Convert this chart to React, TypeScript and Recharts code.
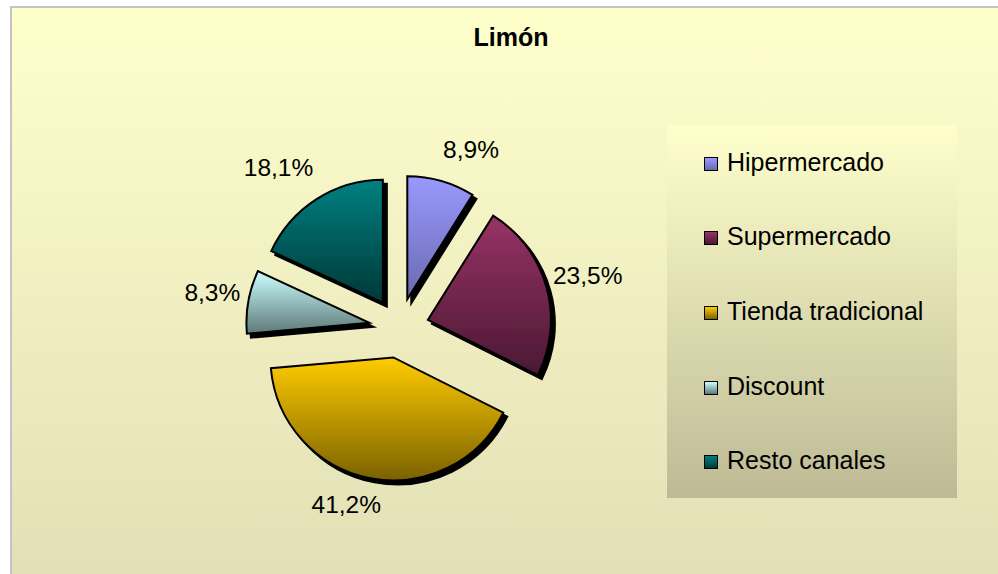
import { Cell, Legend, Pie, PieChart } from 'recharts';

const channels = ['Hipermercado', 'Supermercado', 'Tienda tradicional', 'Discount', 'Resto canales'];
const shares = [8.9, 23.5, 41.2, 8.3, 18.1];
const topColors = ['#9999FF', '#993366', '#FFCC00', '#CCFFFF', '#008080'];
const bottomColors = ['#6A6AB0', '#4A1832', '#7A6100', '#5E7878', '#003838'];

const W = 998;
const H = 574;
const CX = 399;
const CY = 328;
const R = 123;
const EXPLODE = 30;
const RADIAN = Math.PI / 180;
const font = '"Liberation Sans", Arial, sans-serif';

// label placement around each pulled-out slice: extra radius, and a turn in degrees (clockwise)
const labelGap = [40, 43, 31, 37, 48];
const labelTurn = [7, 0, 7, 1, -5];

const rows = channels.map((name, i) => ({ name, value: shares[i] }));
const total = shares.reduce((a, b) => a + b, 0);

// each slice is pulled out along its own mid angle (clockwise from 12 o'clock)
const offsets = shares.map((v, i) => {
  const before = shares.slice(0, i).reduce((a, b) => a + b, 0);
  const mid = ((before + v / 2) / total) * 2 * Math.PI;
  return { dx: EXPLODE * Math.sin(mid), dy: -EXPLODE * Math.cos(mid) };
});

const fmt = (v: number) => `${v.toFixed(1).replace('.', ',')}%`;

const labelFor = (slice: number) => (props: any) => {
  if (props.index !== slice) return null;
  const r = props.outerRadius + labelGap[slice];
  const a = (props.midAngle - labelTurn[slice]) * RADIAN;
  const x = props.cx + r * Math.cos(-a);
  const y = props.cy + r * Math.sin(-a);
  return (
    <text x={x} y={y} textAnchor="middle" dominantBaseline="central" fontSize={24.5} fontFamily={font} fill="#000">
      {fmt(props.value)}
    </text>
  );
};

const LegendBox = () => (
  <div
    style={{
      width: 290,
      height: 373,
      background: 'linear-gradient(180deg, #FFFFCC 0%, #BDBA95 100%)',
      display: 'flex',
      flexDirection: 'column',
      justifyContent: 'space-around',
      paddingLeft: 37,
      boxSizing: 'border-box',
      fontFamily: font,
      fontSize: 25,
      color: '#000',
    }}
  >
    {channels.map((name, i) => (
      <div key={name} style={{ display: 'flex', alignItems: 'center' }}>
        <span
          style={{
            display: 'inline-block',
            width: 12,
            height: 12,
            border: '1.5px solid #000',
            background: `linear-gradient(180deg, ${topColors[i]} 0%, ${bottomColors[i]} 100%)`,
            marginRight: 9,
            marginTop: 3,
          }}
        />
        <span>{name}</span>
      </div>
    ))}
  </div>
);

export default function App() {
  return (
    <div style={{ position: 'absolute', left: 0, top: 0, width: W, height: H, overflow: 'hidden', background: '#fff' }}>
      <div
        style={{
          position: 'absolute',
          left: 10,
          top: 6,
          width: W,
          height: H,
          borderLeft: '2px solid #C4C4C4',
          borderTop: '2px solid #C4C4C4',
          background: 'linear-gradient(180deg, #FFFFCC 0%, #E2DFB6 100%)',
        }}
      />
      <div
        style={{
          position: 'absolute',
          left: 411,
          top: 21,
          width: 200,
          textAlign: 'center',
          fontFamily: font,
          fontWeight: 'bold',
          fontSize: 25,
          lineHeight: '32px',
        }}
      >
        Limón
      </div>
      <div style={{ position: 'absolute', left: 0, top: 0 }}>
        <PieChart width={W} height={H} margin={{ top: 0, right: 0, bottom: 0, left: 0 }}>
          <defs>
            {topColors.map((c, i) => (
              <linearGradient key={i} id={`grad${i}`} x1="0" y1="0" x2="0" y2="1">
                <stop offset="0%" stopColor={c} />
                <stop offset="100%" stopColor={bottomColors[i]} />
              </linearGradient>
            ))}
            <filter id="shadow" x="-20%" y="-20%" width="140%" height="140%">
              <feDropShadow dx="4" dy="4" stdDeviation="0.6" floodColor="#000" floodOpacity="1" />
            </filter>
          </defs>
          {shares.map((_, i) => (
            <Pie
              key={i}
              data={rows}
              dataKey="value"
              nameKey="name"
              cx={CX + offsets[i].dx}
              cy={CY + offsets[i].dy}
              innerRadius={0}
              outerRadius={R}
              startAngle={90}
              endAngle={-270}
              isAnimationActive={false}
              labelLine={false}
              label={labelFor(i)}
              stroke="none"
            >
              {rows.map((row, j) =>
                j === i ? (
                  <Cell key={row.name} fill={`url(#grad${j})`} stroke="#000" strokeWidth={2} filter="url(#shadow)" />
                ) : (
                  <Cell key={row.name} fill="none" stroke="none" />
                ),
              )}
            </Pie>
          ))}
          <Legend
            layout="vertical"
            align="right"
            verticalAlign="top"
            content={() => <LegendBox />}
            wrapperStyle={{ position: 'absolute', left: 667, top: 125, width: 290, height: 373 }}
          />
        </PieChart>
      </div>
    </div>
  );
}
